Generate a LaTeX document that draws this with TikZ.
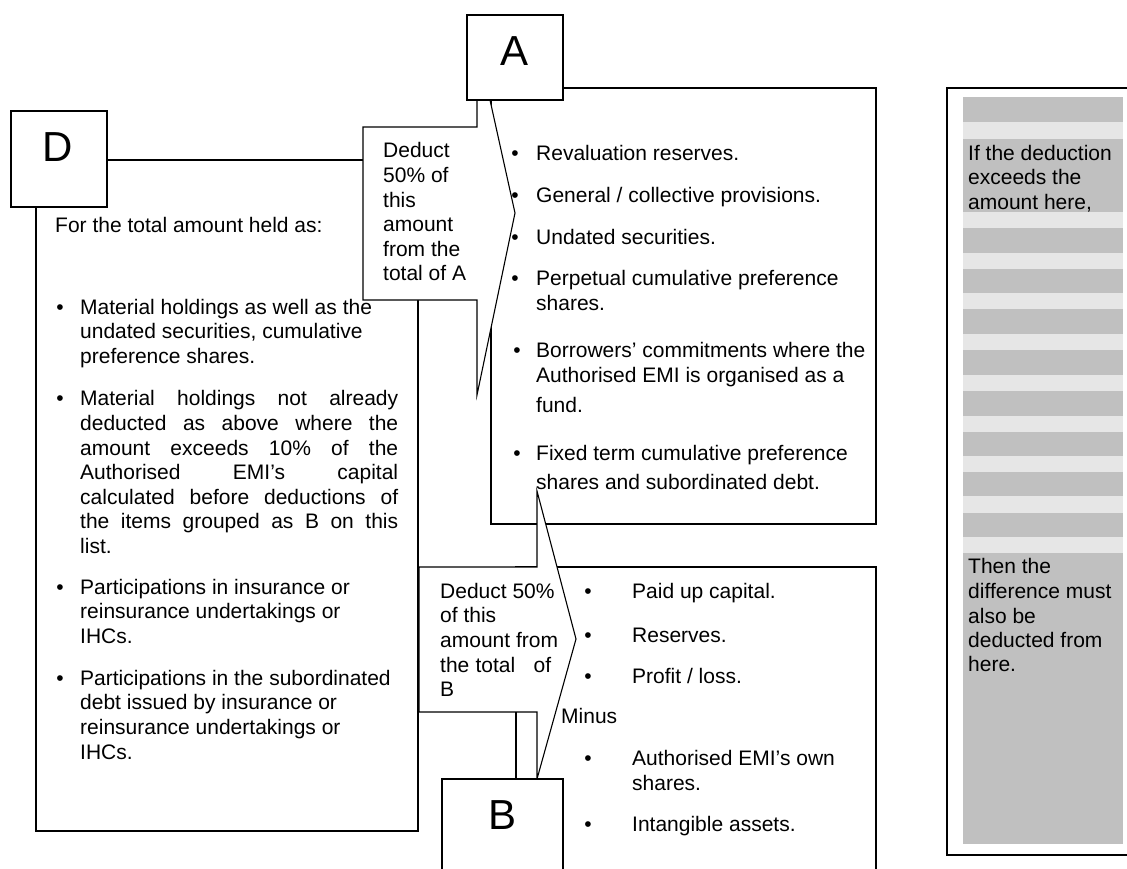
\documentclass[tikz,border=0pt]{standalone}
\usepackage{fontspec}
\setmainfont{Liberation Sans}
\definecolor{bandd}{HTML}{C0C0C0}
\definecolor{bandl}{HTML}{E6E6E6}
\tikzset{
  ln/.style={line width=1.1pt, line join=miter},
  t/.style={anchor=base west, inner sep=0pt, font=\fontsize{21}{25}\selectfont},
  bul/.style={anchor=base, inner sep=0pt, font=\fontsize{21}{25}\selectfont},
  big/.style={anchor=base, inner sep=0pt, font=\fontsize{42}{50}\selectfont},
  lbox/.style={draw, fill=white, line width=1.1pt, inner sep=0pt},
  callout/.style={draw, fill=white, line width=1.1pt, line join=miter}
}
\begin{document}
\begin{tikzpicture}[x=1pt,y=-1pt]
\useasboundingbox (0,0) rectangle (1127,868);
\clip (0,0) rectangle (1127,868);

% ---------- right panel ----------
\draw[line width=1.6pt] (947,88) rectangle (1140,855);
\fill[bandl] (963,96.7) rectangle (1123,844);
\foreach \a/\b in {96.7/122.3, 139/211.7, 228/253, 269/293, 309/334, 350/375, 391/416, 432/456, 472/496, 513/537, 553/844}
  \fill[bandd] (963,\a) rectangle (1123,\b);
\node[t] (r1) at (968,160) {If the deduction};
\node[t] (r2) at (968,184) {exceeds the};
\node[t] (r3) at (968,209) {amount here,};
\node[t] (r4) at (968,573) {Then the};
\node[t] (r5) at (968,598) {difference must};
\node[t] (r6) at (968,623) {also be};
\node[t] (r7) at (968,647) {deducted from};
\node[t] (r8) at (968,671) {here.};

% ---------- D group ----------
\draw[ln] (36,160) rectangle (418,831);
\node[t] (d0) at (55,232) {For the total amount held as:};
\node[bul] (db1) at (60,314) {•};
\node[t] (d1) at (80,314) {Material holdings as well as the};
\node[t] (d2) at (80,338) {undated securities, cumulative};
\node[t] (d3) at (80,363) {preference shares.};
\node[bul] (db2) at (60,405) {•};
\node[t] (d4) at (80,405) {\makebox[318pt][s]{Material holdings not already}};
\node[t] (d5) at (80,430) {\makebox[318pt][s]{deducted as above where the}};
\node[t] (d6) at (80,455) {\makebox[318pt][s]{amount exceeds 10\% of the}};
\node[t] (d7) at (80,479) {\makebox[318pt][s]{Authorised EMI’s capital}};
\node[t] (d8) at (80,504) {\makebox[318pt][s]{calculated before deductions of}};
\node[t] (d9) at (80,528) {\makebox[318pt][s]{the items grouped as B on this}};
\node[t] (d10) at (80,553) {list.};
\node[bul] (db3) at (60,594) {•};
\node[t] (d11) at (80,594) {Participations in insurance or};
\node[t] (d12) at (80,618) {reinsurance undertakings or};
\node[t] (d13) at (80,643) {IHCs.};
\node[bul] (db4) at (60,685) {•};
\node[t] (d14) at (80,685) {Participations in the subordinated};
\node[t] (d15) at (80,709) {debt issued by insurance or};
\node[t] (d16) at (80,734) {reinsurance undertakings or};
\node[t] (d17) at (80,759) {IHCs.};

% ---------- A group ----------
\draw[ln] (491,88) rectangle (876,524);
\node[bul] (ab1) at (515,160) {•};
\node[t] (a1) at (536,160) {Revaluation reserves.};
\node[bul] (ab2) at (515,202) {•};
\node[t] (a2) at (536,202) {General / collective provisions.};
\node[bul] (ab3) at (515,244) {•};
\node[t] (a3) at (536,244) {Undated securities.};
\node[bul] (ab4) at (515,285) {•};
\node[t] (a4) at (536,285) {Perpetual cumulative preference};
\node[t] (a5) at (536,310) {shares.};
\node[bul] (ab5) at (517,357) {•};
\node[t] (a6) at (536,357) {Borrowers’ commitments where the};
\node[t] (a7) at (536,382) {Authorised EMI is organised as a};
\node[t] (a8) at (536,412) {fund.};
\node[bul] (ab6) at (517,460) {•};
\node[t] (a9) at (536,460) {Fixed term cumulative preference};
\node[t] (a10) at (536,489) {shares and subordinated debt.};

% ---------- B group ----------
\draw[ln] (516,567) rectangle (876,890);
\node[bul] (bb1) at (588,598) {•};
\node[t] (b1) at (632,598) {Paid up capital.};
\node[bul] (bb2) at (588,642) {•};
\node[t] (b2) at (632,642) {Reserves.};
\node[bul] (bb3) at (588,683) {•};
\node[t] (b3) at (632,683) {Profit / loss.};
\node[t] (bm) at (561,723) {Minus};
\node[bul] (bb4) at (588,765) {•};
\node[t] (b4) at (632,765) {Authorised EMI’s own};
\node[t] (b5) at (632,790) {shares.};
\node[bul] (bb5) at (588,831) {•};
\node[t] (b6) at (632,831) {Intangible assets.};

% ---------- callout A ----------
\draw[callout] (363,127) -- (477,127) -- (477,100) -- (490,100) -- (515,213) -- (477,395) -- (477,300) -- (363,300) -- cycle;
\node[t] (ca1) at (383,157) {Deduct};
\node[t] (ca2) at (383,182) {50\% of};
\node[t] (ca3) at (383,207) {this};
\node[t] (ca4) at (383,231) {amount};
\node[t] (ca5) at (383,256) {from the};
\node[t] (ca6) at (383,280) {total of A};

% ---------- callout B ----------
\draw[callout] (419,567) -- (537,567) -- (537,491) -- (576,639) -- (537,779) -- (537,712) -- (419,712) -- cycle;
\draw[ln] (516,712) -- (516,779);
\begin{scope}
\clip (419,567) rectangle (556,712);
\node[t] (cb1) at (440,598) {Deduct 50\%};
\node[t] (cb2) at (440,622) {of this};
\node[t] (cb3) at (440,647) {amount from};
\node[t] (cb4) at (440,672) {\makebox[111pt][s]{the total \ \ of}};
\node[t] (cb5) at (440,696) {B};
\end{scope}

% ---------- label boxes ----------
\node[lbox, minimum width=96pt, minimum height=85pt] (Abox) at (515,57.5) {};
\node[big] (Alab) at (515,65) {A};
\node[lbox, minimum width=96pt, minimum height=96pt] (Dbox) at (59,159) {};
\node[big] (Dlab) at (58,161) {D};
\node[lbox, minimum width=121pt, minimum height=120pt] (Bbox) at (502.5,839) {};
\node[big] (Blab) at (503,829) {B};
\end{tikzpicture}
\end{document}
